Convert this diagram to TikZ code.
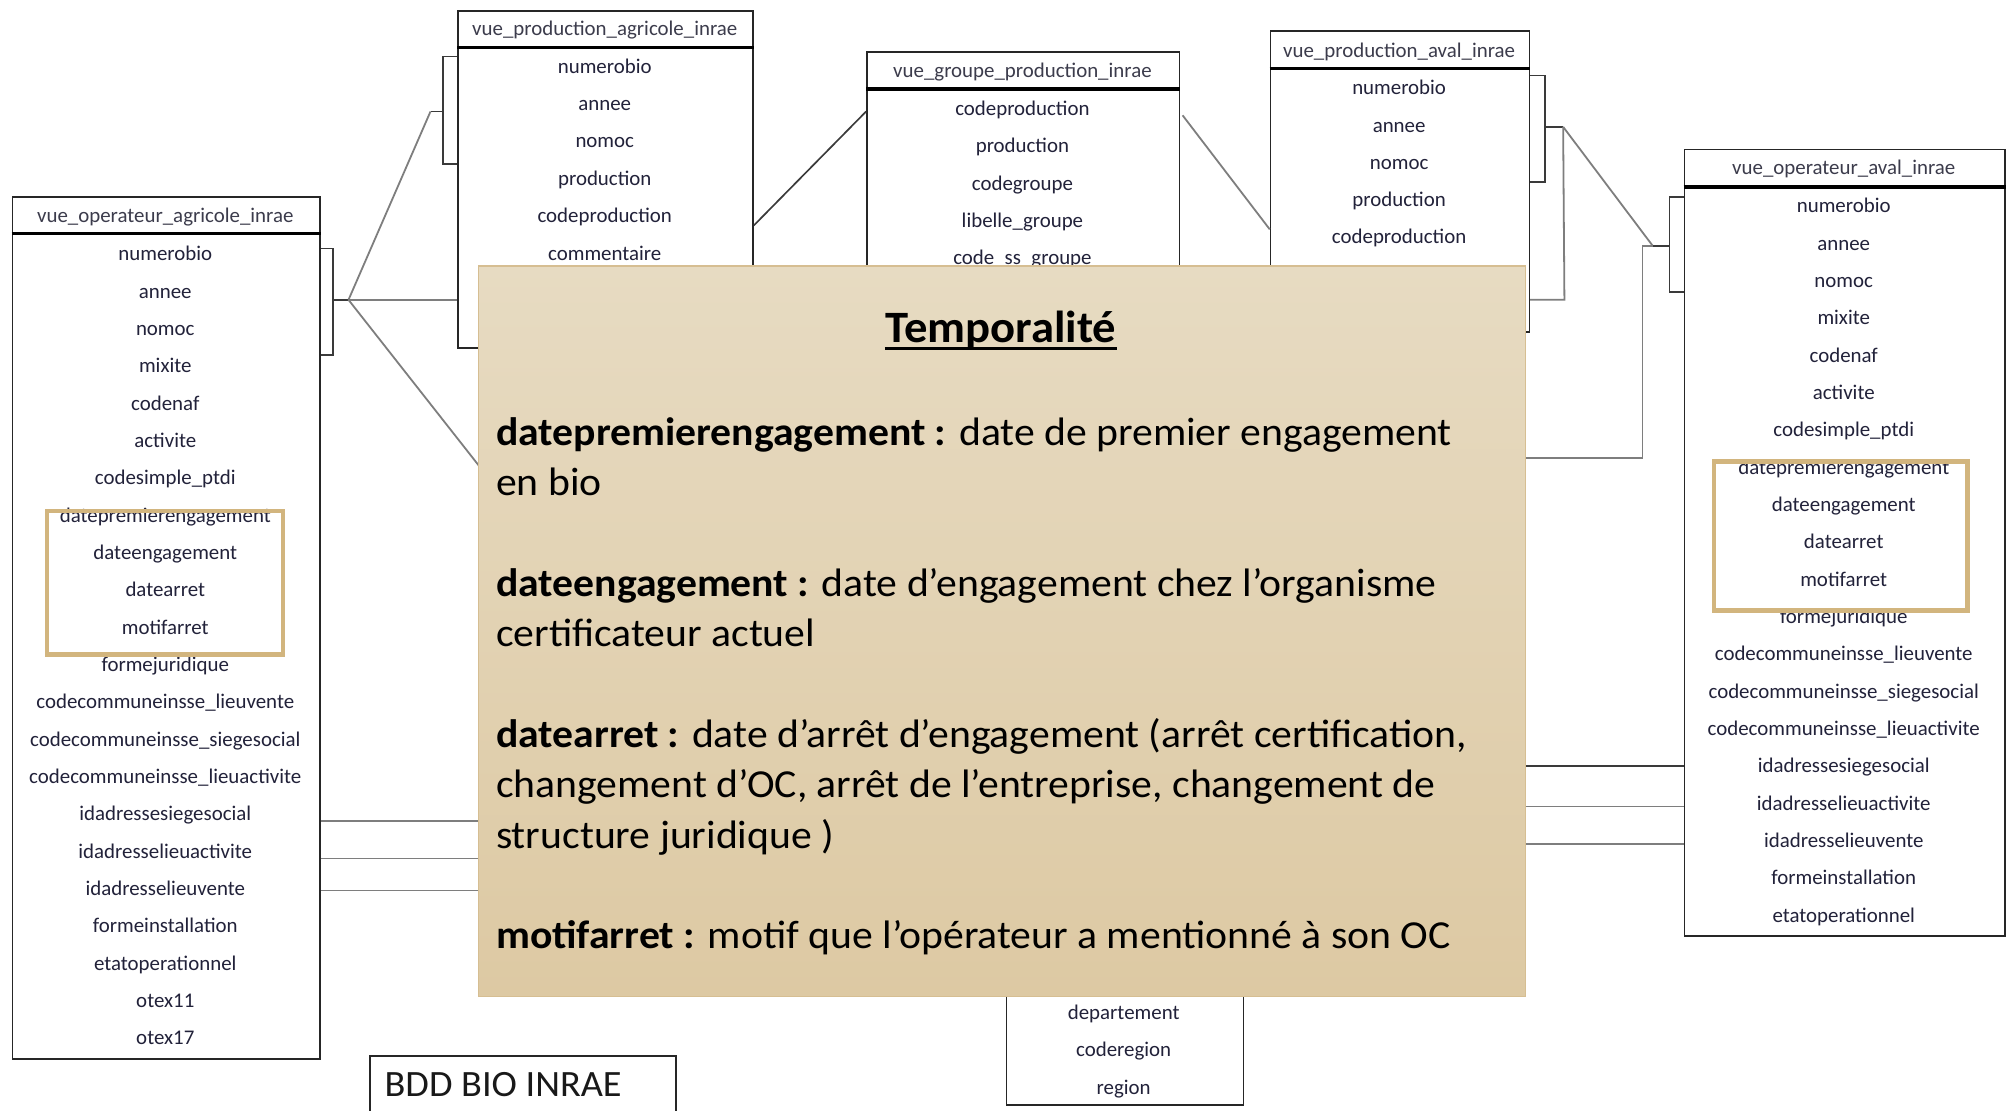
\documentclass[tikz,border=0pt]{standalone}
\usepackage{fontspec}
\setmainfont{Carlito}
\usetikzlibrary{calc}
\definecolor{txt}{HTML}{22223A}
\definecolor{hdrcol}{HTML}{3C3C4C}
\definecolor{framecol}{HTML}{D2B57E}
\definecolor{conngray}{HTML}{7E7E7E}
\definecolor{conndark}{HTML}{3A3A3A}
\definecolor{notetop}{HTML}{E7DBC2}
\definecolor{notebot}{HTML}{DDC9A3}
\definecolor{noteedge}{HTML}{D6BE92}
\tikzset{
  tbl/.style={draw=black!85, line width=1.3pt, fill=white, inner sep=0pt, anchor=north west},
  hdrline/.style={line width=2.6pt, black},
  rowtxt/.style={font=\fontsize{16.3}{19}\selectfont, text=txt, inner sep=0pt, anchor=base},
  hdrtxt/.style={font=\fontsize{16.3}{19}\selectfont, text=hdrcol, inner sep=0pt, anchor=base},
  hilite/.style={draw=framecol, line width=3.6pt},
  conn/.style={draw=conngray, line width=1.4pt},
  conndk/.style={draw=conndark, line width=1.3pt},
  notebox/.style={draw=noteedge, line width=1pt, top color=notetop, bottom color=notebot, inner sep=0pt, anchor=north west},
  notetxt/.style={font=\fontsize{31}{37}\selectfont, text=black, anchor=base west, inner sep=0pt, xscale=1.05, transform shape}
}
\begin{document}
\begin{tikzpicture}[x=1pt,y=-1pt]
\useasboundingbox[fill=white] (0,0) rectangle (1568,867);

% ---------- junction coordinates ----------
\coordinate (j1) at (272,234);
\coordinate (j2) at (336,87);
\coordinate (j4) at (1220,99);
\coordinate (j5) at (1290,192);
\coordinate (hid1) at (430,435);

% ---------- tables ----------
% T1 vue_operateur_agricole_inrae
\node[tbl, minimum width=240pt, minimum height=673pt] (t1) at (9,153) {};
\draw[hdrline] (t1.west |- 0,182) -- (t1.east |- 0,182);
\node[hdrtxt] (t1h) at (129,173.5) {vue\_operateur\_agricole\_inrae};
\foreach \t [count=\i from 0] in {numerobio, annee, nomoc, mixite, codenaf, activite, codesimple\_ptdi, datepremierengagement, dateengagement, datearret, motifarret, formejuridique, codecommuneinsse\_lieuvente, codecommuneinsse\_siegesocial, codecommuneinsse\_lieuactivite, idadressesiegesocial, idadresselieuactivite, idadresselieuvente, formeinstallation, etatoperationnel, otex11, otex17}
  \node[rowtxt] (t1r\i) at (129,{203.6+29.14*\i}) {\t};
\node[hilite, minimum width=184pt, minimum height=112pt, anchor=north west, inner sep=0pt] (t1hl) at (35,397) {};

% T2 vue_production_agricole_inrae
\node[tbl, minimum width=230pt, minimum height=263pt] (t2) at (357,8) {};
\draw[hdrline] (t2.west |- 0,37) -- (t2.east |- 0,37);
\node[hdrtxt] (t2h) at (472,27.5) {vue\_production\_agricole\_inrae};
\foreach \t [count=\i from 0] in {numerobio, annee, nomoc, production, codeproduction, commentaire}
  \node[rowtxt] (t2r\i) at (472,{57+29.2*\i}) {\t};

% T3 vue_groupe_production_inrae
\node[tbl, minimum width=244pt, minimum height=260pt] (t3) at (676,40) {};
\draw[hdrline] (t3.west |- 0,69.5) -- (t3.east |- 0,69.5);
\node[hdrtxt] (t3h) at (798,60.5) {vue\_groupe\_production\_inrae};
\foreach \t [count=\i from 0] in {codeproduction, production, codegroupe, libelle\_groupe, code\_ss\_groupe}
  \node[rowtxt] (t3r\i) at (798,{90+29.2*\i}) {\t};

% T4 vue_production_aval_inrae
\node[tbl, minimum width=202pt, minimum height=235pt] (t4) at (991,23.5) {};
\draw[hdrline] (t4.west |- 0,53.5) -- (t4.east |- 0,53.5);
\node[hdrtxt] (t4h) at (1092,44.5) {vue\_production\_aval\_inrae};
\foreach \t [count=\i from 0] in {numerobio, annee, nomoc, production, codeproduction}
  \node[rowtxt] (t4r\i) at (1092,{74+29.1*\i}) {\t};

% T5 vue_operateur_aval_inrae
\node[tbl, minimum width=250pt, minimum height=614pt] (t5) at (1314,116) {};
\draw[hdrline] (t5.west |- 0,146) -- (t5.east |- 0,146);
\node[hdrtxt] (t5h) at (1439,136.5) {vue\_operateur\_aval\_inrae};
\foreach \t [count=\i from 0] in {numerobio, annee, nomoc, mixite, codenaf, activite, codesimple\_ptdi, datepremierengagement, dateengagement, datearret, motifarret, formejuridique, codecommuneinsse\_lieuvente, codecommuneinsse\_siegesocial, codecommuneinsse\_lieuactivite, idadressesiegesocial, idadresselieuactivite, idadresselieuvente, formeinstallation, etatoperationnel}
  \node[rowtxt] (t5r\i) at (1439,{166+29.14*\i}) {\t};
\node[hilite, minimum width=198pt, minimum height=116pt, anchor=north west, inner sep=0pt] (t5hl) at (1336,358.5) {};

% T6 (hidden table, bottom part)
\node[tbl, minimum width=185pt, minimum height=162pt] (t6) at (785,700) {};
\foreach \t/\yy [count=\i from 0] in {departement/790, coderegion/819, region/848.6}
  \node[rowtxt] (t6r\i) at (877,{\yy+5.5}) {\t};

% ---------- connectors ----------
% T1 bracket and junction
\draw[conndk] (t1.east |- 0,194) -- (260,194) -- (260,277) -- (t1.east |- 0,277);
\draw[conndk] (260,234) -- (j1);
\draw[conn] (j1) -- (j2);
\draw[conn] (j1) -- (t2.west |- j1);
\draw[conn] (j1) -- (hid1);
% T2 bracket
\draw[conndk] (t2.west |- 0,44) -- (346,44) -- (346,128) -- (t2.west |- 0,128);
\draw[conndk] (346,87) -- (j2);
% T2 -> T3
\draw[conndk] (t2.east |- 0,176) -- (t3.west |- 0,87);
% T3 -> T4
\draw[conn] (923,90) -- (t4.west |- 0,179);
% T4 bracket
\draw[conndk] (t4.east |- 0,59) -- (1206,59) -- (1206,142) -- (t4.east |- 0,142);
\draw[conndk] (1206,99) -- (j4);
\draw[conn] (t4.east |- 0,234) -- (1221,234) -- (j4);
% T4 -> T5
\draw[conn] (j4) -- (j5);
% T5 bracket
\draw[conndk] (t5.west |- 0,154) -- (1303,154) -- (1303,228) -- (t5.west |- 0,228);
\draw[conndk] (1303,192) -- (j5);
\draw[conn] (j5) -- (1282,192) -- (1282,357.5) -- (1150,357.5);
% left horizontals
\foreach \yy in {641,670,695}
  \draw[conn] (t1.east |- 0,\yy) -- (450,\yy);
% right horizontals
\draw[conndk] (1150,598) -- (t5.west |- 0,598);
\draw[conn] (1150,629.5) -- (t5.west |- 0,629.5);
\draw[conn] (1150,658.5) -- (t5.west |- 0,658.5);

% ---------- note box ----------
\node[notebox, minimum width=817pt, minimum height=570.5pt] (note) at (373,207) {};
\node[font=\bfseries\fontsize{35}{40}\selectfont, inner sep=0pt, anchor=base, xscale=1.04, transform shape] (ttl) at (781,267) {Temporalité};
\draw[line width=2.3pt] ($(ttl.base west)+(0,5)$) -- ($(ttl.base east)+(0,5)$);
\node[notetxt] (n1) at (387,347.5) {\textbf{datepremierengagement :} date de premier engagement};
\node[notetxt] (n2) at (387,386.8) {en bio};
\node[notetxt] (n3) at (387,465.4) {\textbf{dateengagement :} date d’engagement chez l’organisme};
\node[notetxt] (n4) at (387,504.7) {certificateur actuel};
\node[notetxt] (n5) at (387,583.3) {\textbf{datearret :} date d’arrêt d’engagement (arrêt certification,};
\node[notetxt] (n6) at (387,622.6) {changement d’OC, arrêt de l’entreprise, changement de};
\node[notetxt] (n7) at (387,661.9) {structure juridique )};
\node[notetxt] (n8) at (387,740.5) {\textbf{motifarret :} motif que l’opérateur a mentionné à son OC};

% ---------- BDD label ----------
\node[tbl, minimum width=239pt, minimum height=70pt] (bdd) at (288,823.5) {};
\node[font=\fontsize{29}{34}\selectfont, text=black!90, anchor=base west, inner sep=0pt, xscale=1.03, transform shape] (bddtxt) at (300,855.5) {BDD BIO INRAE};
\end{tikzpicture}
\end{document}
